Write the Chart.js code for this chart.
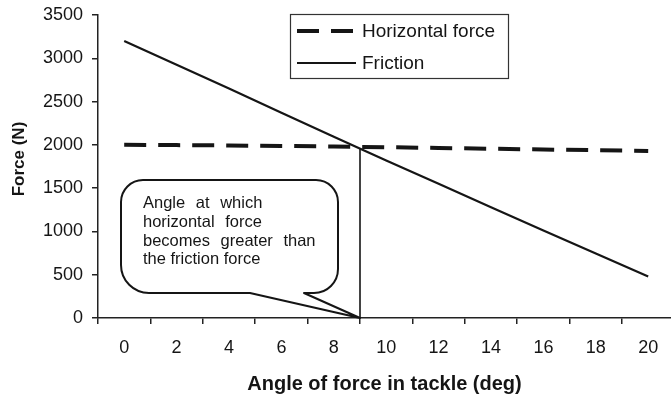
<!DOCTYPE html>
<html>
<head>
<meta charset="utf-8">
<script src="https://cdn.jsdelivr.net/npm/chart.js@4.4.1/dist/chart.umd.min.js"></script>
<style>
  html, body { margin: 0; padding: 0; background: #fff; overflow: hidden; }
  #wrap { width: 671px; height: 396px; }
  canvas { display: block; }
</style>
</head>
<body>
<div id="wrap"><canvas id="chart" width="671" height="396"></canvas></div>
<script>
// Angle of the pulling force in the tackle (deg)
const angles = [0, 2, 4, 6, 8, 10, 12, 14, 16, 18, 20];
// Friction force between load and ground (N)
const friction = [3200, 2925, 2650, 2370, 2095, 1820, 1550, 1280, 1010, 745, 480];
// Horizontal component of the tackle force (N)
const horizontalForce = [2000, 1997, 1993, 1987, 1981, 1973, 1964, 1955, 1946, 1938, 1930];
// Marker where the horizontal force overtakes friction
const crossAngle = [9, 9];
const crossForce = [0, 1958];
// Axis ticks
const xTickValues = [0, 2, 4, 6, 8, 10, 12, 14, 16, 18, 20];
const yTickValues = [0, 500, 1000, 1500, 2000, 2500, 3000, 3500];
// Texts
const seriesNames = ['Horizontal force', 'Friction'];
const xTitle = 'Angle of force in tackle (deg)';
const yTitle = 'Force (N)';
const calloutLines = ['Angle at which', 'horizontal force', 'becomes greater than', 'the friction force'];

const FONT = '"Liberation Sans", Arial, Helvetica, sans-serif';
const INK = '#151515';

const toPoints = (xs, ys) => xs.map((x, i) => ({ x: x, y: ys[i] }));

// Framed legend placed inside the plot, top right
const framedLegend = {
  id: 'framedLegend',
  afterDraw(chart) {
    const ctx = chart.ctx;
    const box = { x: 290, y: 14, w: 218, h: 64 };
    ctx.save();
    ctx.fillStyle = '#fff';
    ctx.fillRect(box.x, box.y, box.w, box.h);
    ctx.strokeStyle = '#333';
    ctx.lineWidth = 1.2;
    ctx.strokeRect(box.x + 0.5, box.y + 0.5, box.w, box.h);
    const rows = [31, 63];
    chart.data.datasets.slice(0, 2).forEach((ds, i) => {
      const y = rows[i];
      ctx.beginPath();
      ctx.setLineDash(ds.borderDash || []);
      ctx.lineWidth = ds.borderWidth;
      ctx.strokeStyle = ds.borderColor;
      ctx.lineCap = 'butt';
      ctx.moveTo(297, y);
      ctx.lineTo(356, y);
      ctx.stroke();
      ctx.setLineDash([]);
      ctx.fillStyle = INK;
      ctx.font = '19px ' + FONT;
      ctx.textAlign = 'left';
      ctx.textBaseline = 'middle';
      ctx.fillText(ds.label, 362, y + 1);
    });
    ctx.restore();
  }
};

// Speech-bubble note pointing at the crossing angle on the x axis
const calloutNote = {
  id: 'calloutNote',
  afterDraw(chart) {
    const ctx = chart.ctx;
    const xs = chart.scales.x, ys = chart.scales.y;
    const tipX = xs.getPixelForValue(crossAngle[0]);
    const tipY = ys.getPixelForValue(crossForce[0]);
    const L = 121, R = 338, T = 180, B = 293;
    const r = 22, rb = 28;
    ctx.save();
    ctx.beginPath();
    ctx.moveTo(L + r, T);
    ctx.lineTo(R - r, T);
    ctx.arcTo(R, T, R, T + r, r);
    ctx.lineTo(R, B - 24);
    ctx.arcTo(R, B, R - 26, B, 24);
    ctx.lineTo(304, B);
    ctx.lineTo(tipX, tipY);
    ctx.lineTo(250, B);
    ctx.lineTo(L + rb, B);
    ctx.arcTo(L, B, L, B - rb, rb);
    ctx.lineTo(L, T + r);
    ctx.arcTo(L, T, L + r, T, r);
    ctx.closePath();
    ctx.fillStyle = '#fff';
    ctx.fill();
    ctx.strokeStyle = INK;
    ctx.lineWidth = 2;
    ctx.lineJoin = 'round';
    ctx.stroke();

    ctx.fillStyle = INK;
    ctx.font = '16.5px ' + FONT;
    ctx.textAlign = 'left';
    ctx.textBaseline = 'middle';
    const ys0 = [203, 222, 241, 259];
    calloutLines.forEach((line, i) => {
      ctx.wordSpacing = i < 3 ? '6px' : '0px';
      ctx.fillText(line, 143, ys0[i]);
    });
    ctx.wordSpacing = '0px';
    ctx.restore();
  }
};

// Rotated y-axis title
const yAxisTitle = {
  id: 'yAxisTitle',
  afterDraw(chart) {
    const ctx = chart.ctx;
    ctx.save();
    ctx.translate(19, 159);
    ctx.rotate(-Math.PI / 2);
    ctx.font = 'bold 17px ' + FONT;
    ctx.fillStyle = INK;
    ctx.textAlign = 'center';
    ctx.textBaseline = 'middle';
    ctx.fillText(yTitle, 0, 0);
    ctx.restore();
  }
};

const whiteBackground = {
  id: 'whiteBackground',
  beforeDraw(chart) {
    const ctx = chart.ctx;
    ctx.save();
    ctx.fillStyle = '#fff';
    ctx.fillRect(0, 0, chart.width, chart.height);
    ctx.restore();
  }
};

new Chart(document.getElementById('chart'), {
  type: 'line',
  data: {
    datasets: [
      {
        label: seriesNames[0],
        data: toPoints(angles, horizontalForce),
        borderColor: INK,
        borderWidth: 4,
        borderDash: [22, 12],
        borderCapStyle: 'butt',
        pointRadius: 0,
        tension: 0,
        fill: false
      },
      {
        label: seriesNames[1],
        data: toPoints(angles, friction),
        borderColor: INK,
        borderWidth: 2.2,
        pointRadius: 0,
        tension: 0,
        fill: false
      },
      {
        label: '',
        data: toPoints(crossAngle, crossForce),
        borderColor: INK,
        borderWidth: 1.6,
        pointRadius: 0,
        tension: 0,
        fill: false
      }
    ]
  },
  options: {
    responsive: false,
    devicePixelRatio: 1,
    animation: false,
    events: [],
    layout: { padding: { top: 15, right: 0, bottom: 0, left: 0 } },
    plugins: {
      legend: { display: false },
      tooltip: { enabled: false }
    },
    scales: {
      x: {
        type: 'linear',
        min: -1,
        max: 20.87,
        afterBuildTicks(scale) {
          scale.ticks = xTickValues.map(v => ({ value: v }));
        },
        afterFit(scale) {
          scale.height = 78;
          scale.paddingLeft = 0;
          scale.paddingRight = 0;
        },
        ticks: {
          autoSkip: false,
          maxRotation: 0,
          padding: 13,
          color: INK,
          font: { family: FONT, size: 18 },
          callback: v => String(v)
        },
        grid: {
          offset: true,
          drawOnChartArea: false,
          drawTicks: true,
          tickLength: 6,
          color: '#222',
          lineWidth: 1.5
        },
        border: { display: true, color: '#222', width: 1.5 },
        title: {
          display: true,
          text: xTitle,
          color: INK,
          font: { family: FONT, size: 20, weight: 'bold', lineHeight: 1.2 },
          padding: { top: 0, bottom: 0 }
        }
      },
      y: {
        type: 'linear',
        min: 0,
        max: 3500,
        afterBuildTicks(scale) {
          scale.ticks = yTickValues.map(v => ({ value: v }));
        },
        afterFit(scale) {
          scale.width = 98;
          scale.paddingTop = 0;
          scale.paddingBottom = 0;
        },
        ticks: {
          padding: 9,
          color: INK,
          font: { family: FONT, size: 18 },
          callback: v => String(v)
        },
        grid: {
          drawOnChartArea: false,
          drawTicks: true,
          tickLength: 6,
          color: '#222',
          lineWidth: 1.5
        },
        border: { display: true, color: '#222', width: 1.5 }
      }
    }
  },
  plugins: [whiteBackground, calloutNote, framedLegend, yAxisTitle]
});
</script>
</body>
</html>
